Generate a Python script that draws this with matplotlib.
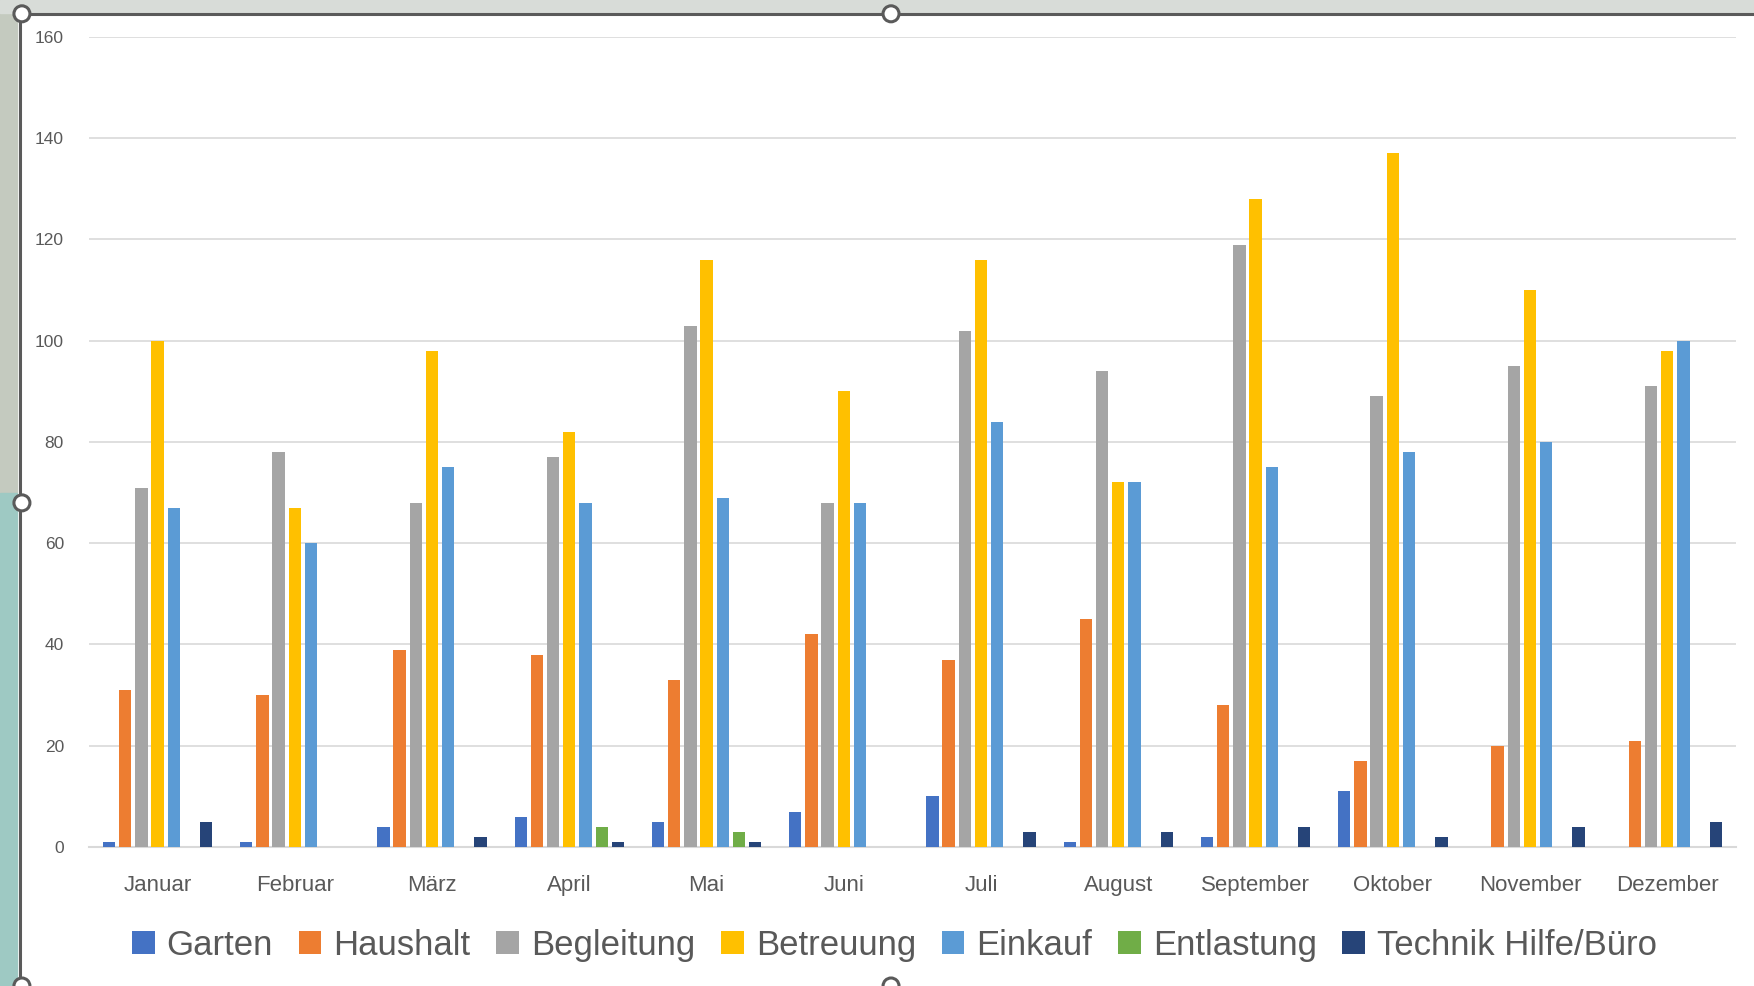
import numpy as np
import matplotlib.pyplot as plt
from matplotlib.patches import Rectangle, Circle

plt.rcParams['font.family'] = ['Liberation Sans Narrow', 'Liberation Sans', 'DejaVu Sans']

months = ["Januar", "Februar", "März", "April", "Mai", "Juni", "Juli",
          "August", "September", "Oktober", "November", "Dezember"]

garten = [1, 1, 4, 6, 5, 7, 10, 1, 2, 11, 0, 0]
haushalt = [31, 30, 39, 38, 33, 42, 37, 45, 28, 17, 20, 21]
begleitung = [71, 78, 68, 77, 103, 68, 102, 94, 119, 89, 95, 91]
betreuung = [100, 67, 98, 82, 116, 90, 116, 72, 128, 137, 110, 98]
einkauf = [67, 60, 75, 68, 69, 68, 84, 72, 75, 78, 80, 100]
entlastung = [0, 0, 0, 4, 3, 0, 0, 0, 0, 0, 0, 0]
technik = [5, 0, 2, 1, 1, 0, 3, 3, 4, 2, 4, 5]

series = [
    ("Garten", garten, "#4472c4"),
    ("Haushalt", haushalt, "#ed7d31"),
    ("Begleitung", begleitung, "#a5a5a5"),
    ("Betreuung", betreuung, "#ffc000"),
    ("Einkauf", einkauf, "#5b9bd5"),
    ("Entlastung", entlastung, "#70ad47"),
    ("Technik Hilfe/Büro", technik, "#264478"),
]

fig = plt.figure(figsize=(17.54, 9.86), dpi=100)
fig.patch.set_facecolor("white")

# screenshot surroundings: strip on the left, band on top, chart frame + handles
fig.add_artist(Rectangle((0, 0.5), 0.0095, 0.5, transform=fig.transFigure,
                         color="#c4cabf", zorder=0))
fig.add_artist(Rectangle((0, 0), 0.0095, 0.5, transform=fig.transFigure,
                         color="#9ec9c3", zorder=0))
fig.add_artist(Rectangle((0, 0.987), 1, 0.013, transform=fig.transFigure,
                         color="#d8dcd8", zorder=0))
fig.add_artist(plt.Line2D([0.0115, 1], [0.986, 0.986], transform=fig.transFigure,
                          color="#5a5a5a", lw=2.2))
fig.add_artist(plt.Line2D([0.0115, 0.0115], [0, 0.986], transform=fig.transFigure,
                          color="#5a5a5a", lw=2.2))
for hx, hy in [(0.0125, 0.986), (0.508, 0.986), (0.0125, 0.49), (0.508, 0.0), (0.0125, 0.0)]:
    fig.add_artist(Circle((hx * 17.54 * 100, hy * 9.86 * 100), 8,
                          transform=None, facecolor="white",
                          edgecolor="#5a5a5a", lw=2.2, zorder=5))

ax = fig.add_axes([0.0507, 0.141, 0.939, 0.8215])
x = np.arange(len(months))
step = 0.118
width = 0.09
n = len(series)
for i, (name, vals, color) in enumerate(series):
    ax.bar(x + (i - (n - 1) / 2) * step, vals, width=width, color=color,
           label=name, zorder=3)

ax.set_xlim(-0.5, len(months) - 0.5)
ax.set_ylim(0, 160)
ax.set_yticks(np.arange(0, 161, 20))
ax.set_xticks(x)
ax.set_xticklabels(months, fontsize=16, color="#595959")
ax.tick_params(axis="y", labelsize=12.5, labelcolor="#595959", length=0, pad=18)
ax.tick_params(axis="x", length=0, pad=20)
ax.grid(axis="y", color="#d9d9d9", lw=1.2, zorder=0)
for s in ["top", "right", "left"]:
    ax.spines[s].set_visible(False)
ax.spines["bottom"].set_color("#d9d9d9")
ax.spines["bottom"].set_linewidth(1.5)

fig.legend(loc="center", bbox_to_anchor=(0.51, 0.041), ncol=7, frameon=False,
           fontsize=25, handlelength=0.65, handleheight=0.65, handletextpad=0.35,
           columnspacing=0.74, labelcolor="#595959")

fig.savefig("out.png", dpi=100)
